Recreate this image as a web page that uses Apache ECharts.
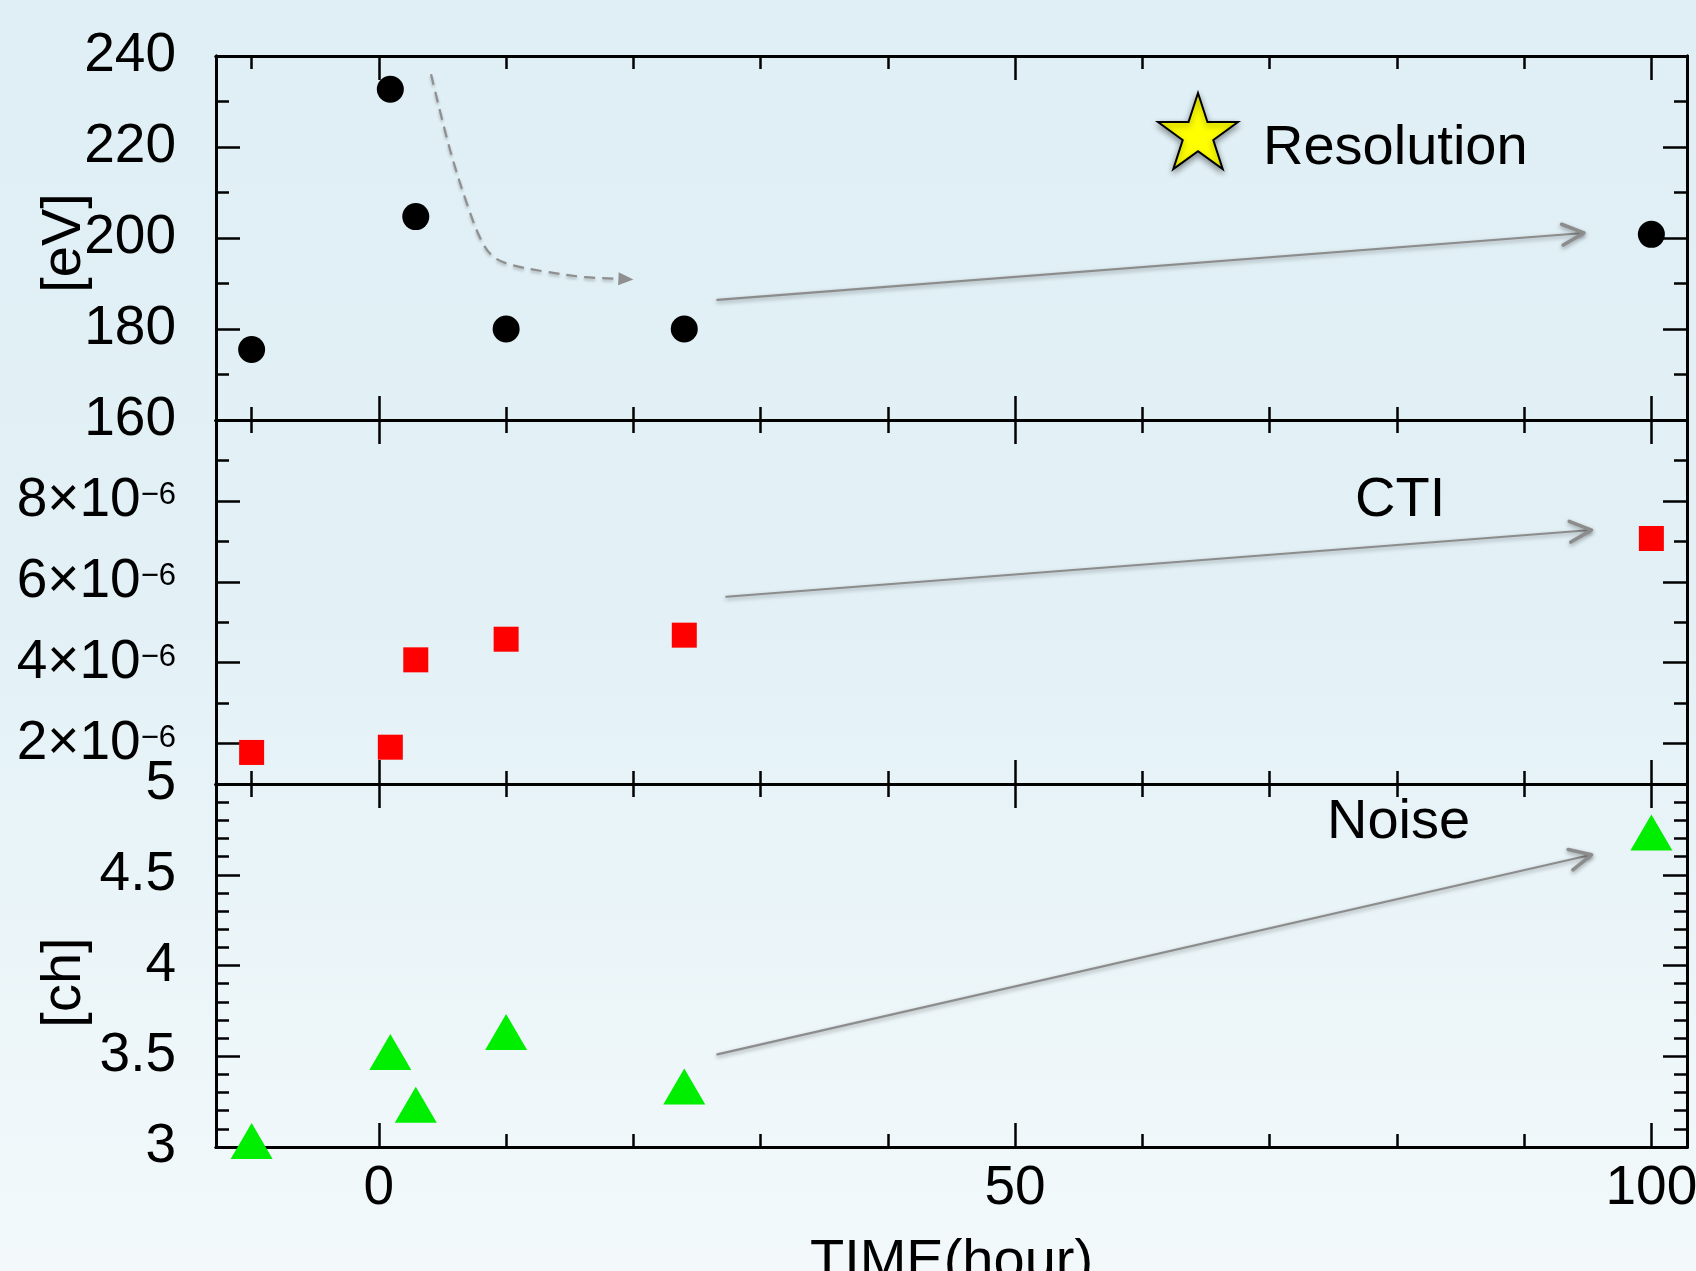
<!DOCTYPE html>
<html>
<head>
<meta charset="utf-8">
<script src="https://cdn.jsdelivr.net/npm/echarts@6/dist/echarts.min.js"></script>
<style>
html, body { margin: 0; padding: 0; }
#main { width: 1696px; height: 1271px; }
</style>
</head>
<body>
<div id="main"></div>
<script>
// measured points (time after start, hours)
var hours = [-10, 0.9, 2.9, 10, 24, 100];
var resolution = [175.5, 232.7, 204.7, 180, 180, 200.8];       // eV
var cti = [1.78e-6, 1.91e-6, 4.07e-6, 4.58e-6, 4.68e-6, 7.07e-6];
var noise = [3.0, 3.49, 3.2, 3.6, 3.3, 4.7];                    // ch

// ticks
var xMajor = [0, 50, 100];
var xMinor = [-10, 10, 20, 30, 40, 60, 70, 80, 90];
var resMajor = [160, 180, 200, 220, 240];
var resMinor = [170, 190, 210, 230];
var ctiMajor = [2e-6, 4e-6, 6e-6, 8e-6];
var ctiMinor = [3e-6, 5e-6, 7e-6, 9e-6];
var noiseMajor = [3, 3.5, 4, 4.5, 5];
var noiseMinor = [3.1, 3.2, 3.3, 3.4, 3.6, 3.7, 3.8, 3.9, 4.1, 4.2, 4.3, 4.4, 4.6, 4.7, 4.8, 4.9];

// annotation arrows, in data units of each panel
var resArrow = [[26.6, 186.4], [94.7, 201.1]];
var ctiArrow = [[27.3, 5.63e-6], [95.3, 7.28e-6]];
var noiseArrow = [[26.6, 3.51], [95.3, 4.61]];
var dashCurve = [[4.1, 236], [5.6, 219.3], [7.0, 206.9], [8.1, 199.2], [9.0, 195.9], [10.4, 194.1], [13.1, 192.6], [16.2, 191.4], [20.0, 190.9]];

var FONT = 'Liberation Sans';
var X_MIN = -12.8, X_MAX = 102.8;

function zip(xs, ys) {
    return xs.map(function (x, i) { return [x, ys[i]]; });
}

function makeAxes(dim, gridIndex, min, max, major, minor, label, name) {
    var sides = dim === 'x' ? ['bottom', 'top'] : ['left', 'right'];
    var list = [];
    sides.forEach(function (side, s) {
        [major, minor].forEach(function (ticks, k) {
            var ax = {
                type: 'value',
                gridIndex: gridIndex,
                position: side,
                min: min,
                max: max,
                axisLine: { show: true, onZero: false, lineStyle: { color: '#000', width: 3 } },
                axisTick: { show: true, inside: true, customValues: ticks, length: k === 0 ? 24 : 13,
                    lineStyle: { color: '#000', width: 2.5 } },
                axisLabel: { show: false },
                splitLine: { show: false }
            };
            if (s === 0 && k === 0 && label) {
                ax.axisLabel = label;
            }
            if (s === 0 && k === 0 && name) {
                ax.name = name.text;
                ax.nameLocation = 'middle';
                ax.nameGap = name.gap;
                ax.nameMoveOverlap = false;
                ax.nameRotate = dim === 'y' ? 90 : 0;
                ax.nameTextStyle = { fontFamily: FONT, fontSize: 56, color: '#000', padding: name.pad || 0 };
            }
            list.push(ax);
        });
    });
    return list;
}

function tickLabel(values, formatter, extra) {
    var l = {
        show: true,
        customValues: values,
        margin: 40,
        fontFamily: FONT,
        fontSize: 55,
        color: '#000',
        formatter: formatter
    };
    for (var key in extra) l[key] = extra[key];
    return l;
}

var xAxes = []
    .concat(makeAxes('x', 0, X_MIN, X_MAX, xMajor, xMinor))
    .concat(makeAxes('x', 1, X_MIN, X_MAX, xMajor, xMinor))
    .concat(makeAxes('x', 2, X_MIN, X_MAX, xMajor, xMinor,
        tickLabel(xMajor, '{value}', { margin: 14 }),
        { text: 'TIME(hour)', gap: 88 }));

var yAxes = []
    .concat(makeAxes('y', 0, 160, 240, resMajor, resMinor,
        tickLabel(resMajor, '{value}'), { text: '[eV]', gap: 123, pad: [0, 10, 0, 0] }))
    .concat(makeAxes('y', 1, 1e-6, 1e-5, ctiMajor, ctiMinor,
        tickLabel(ctiMajor, function (v) {
            return '{b|' + Math.round(v * 1e6) + '×10}{s|−6}';
        }, {
            rich: {
                b: { fontFamily: FONT, fontSize: 55, lineHeight: 60, color: '#000' },
                s: { fontFamily: FONT, fontSize: 31, lineHeight: 31, verticalAlign: 'top', color: '#000', padding: [9, 0, 0, 0] }
            }
        })))
    .concat(makeAxes('y', 2, 3, 5, noiseMajor, noiseMinor,
        tickLabel(noiseMajor, function (v) { return String(v); }), { text: '[ch]', gap: 123, pad: [0, 34, 0, 0] }));

// five pointed star for the legend icon
function starPath() {
    var pts = [];
    for (var i = 0; i < 10; i++) {
        var r = i % 2 === 0 ? 50 : 19.1;
        var a = -Math.PI / 2 + i * Math.PI / 5;
        pts.push((50 + r * Math.cos(a)).toFixed(2) + ',' + (50 + r * Math.sin(a)).toFixed(2));
    }
    return 'path://M' + pts.join(' L') + ' Z';
}

var chart = echarts.init(document.getElementById('main'));

var option = {
    backgroundColor: new echarts.graphic.LinearGradient(0, 0, 0, 1, [
        { offset: 0, color: '#dfeff5' },
        { offset: 0.5, color: '#e3f1f6' },
        { offset: 1, color: '#f3f9fb' }
    ]),
    animation: false,
    grid: [
        { left: 216, top: 56, width: 1471, height: 364, outerBoundsMode: 'none' },
        { left: 216, top: 420, width: 1471, height: 364, outerBoundsMode: 'none' },
        { left: 216, top: 784, width: 1471, height: 363, outerBoundsMode: 'none' }
    ],
    xAxis: xAxes,
    yAxis: yAxes,
    legend: [
        {
            data: [{ name: 'Resolution', icon: starPath(),
                itemStyle: { color: '#ffff00', opacity: 1, borderColor: '#000', borderWidth: 2,
                    shadowBlur: 6, shadowColor: 'rgba(0,0,0,0.4)', shadowOffsetY: 3 } }],
            left: 1157, top: 92, padding: 0,
            itemWidth: 80, itemHeight: 80,
            formatter: '{r|{name}}',
            textStyle: { rich: { r: { fontFamily: FONT, fontSize: 56, color: '#000', padding: [36, 0, 0, 20] } } }
        },
        {
            data: [{ name: 'CTI', icon: 'none' }],
            left: 1350, top: 473, padding: 0,
            itemWidth: 0, itemHeight: 56,
            textStyle: { fontFamily: FONT, fontSize: 56, color: '#000' }
        },
        {
            data: [{ name: 'Noise', icon: 'none' }],
            left: 1322, top: 795, padding: 0,
            itemWidth: 0, itemHeight: 56,
            textStyle: { fontFamily: FONT, fontSize: 56, color: '#000' }
        }
    ],
    series: [
        {
            name: 'Resolution',
            type: 'scatter',
            xAxisIndex: 0, yAxisIndex: 0,
            symbol: 'circle', symbolSize: 27,
            itemStyle: { color: '#000', opacity: 1 },
            clip: false,
            data: zip(hours, resolution)
        },
        {
            name: 'CTI',
            type: 'scatter',
            xAxisIndex: 4, yAxisIndex: 4,
            symbol: 'rect', symbolSize: 25,
            itemStyle: { color: '#ff0000', opacity: 1 },
            clip: false,
            data: zip(hours, cti)
        },
        {
            name: 'Noise',
            type: 'scatter',
            xAxisIndex: 8, yAxisIndex: 8,
            symbol: 'triangle', symbolSize: [42, 36], symbolOffset: [0, -6],
            itemStyle: { color: '#00ee00', opacity: 1 },
            clip: false,
            data: zip(hours, noise)
        }
    ]
};

chart.setOption(option);

// arrows drawn on top, positioned through each panel's axes
function toPx(panel, pt) {
    return chart.convertToPixel({ xAxisIndex: panel * 4, yAxisIndex: panel * 4 }, pt);
}

var shadow = { shadowBlur: 4, shadowColor: 'rgba(0,0,0,0.35)', shadowOffsetY: 2 };

function solidArrow(panel, seg) {
    var a = toPx(panel, seg[0]), b = toPx(panel, seg[1]);
    var ang = Math.atan2(b[1] - a[1], b[0] - a[0]);
    var len = 24, half = 0.45;
    var w1 = [b[0] - len * Math.cos(ang - half), b[1] - len * Math.sin(ang - half)];
    var w2 = [b[0] - len * Math.cos(ang + half), b[1] - len * Math.sin(ang + half)];
    var st = { stroke: '#8c8c8c', lineWidth: 2.2, fill: null, lineCap: 'round', lineJoin: 'round' };
    for (var k in shadow) st[k] = shadow[k];
    var head = {};
    for (var k2 in st) head[k2] = st[k2];
    head.lineWidth = 3.5;
    return [
        { type: 'polyline', shape: { points: [a, b] }, style: st, z: 10, silent: true },
        { type: 'polyline', shape: { points: [w1, b, w2] }, style: head, z: 10, silent: true }
    ];
}

function dashedArrow(panel, pts) {
    var p = pts.map(function (d) { return toPx(panel, d); });
    var b = p[p.length - 1], a = p[p.length - 2];
    var ang = Math.atan2(b[1] - a[1], b[0] - a[0]);
    var len = 15, hw = 6.5;
    var base = [b[0] - len * Math.cos(ang), b[1] - len * Math.sin(ang)];
    var n = [-Math.sin(ang) * hw, Math.cos(ang) * hw];
    var line = p.slice(0, p.length - 1).concat([base]);
    return [
        { type: 'polyline', shape: { points: line, smooth: 0.35 }, z: 10, silent: true,
          style: { stroke: '#8f8f8f', lineWidth: 2.2, fill: null, lineDash: [11, 7],
              shadowBlur: 3, shadowColor: 'rgba(0,0,0,0.25)', shadowOffsetY: 2 } },
        { type: 'polygon', shape: { points: [b, [base[0] + n[0], base[1] + n[1]], [base[0] - n[0], base[1] - n[1]]] },
          z: 10, silent: true, style: { fill: '#8f8f8f' } }
    ];
}

chart.setOption({
    graphic: []
        .concat(solidArrow(0, resArrow))
        .concat(solidArrow(1, ctiArrow))
        .concat(solidArrow(2, noiseArrow))
        .concat(dashedArrow(0, dashCurve))
});
</script>
</body>
</html>
